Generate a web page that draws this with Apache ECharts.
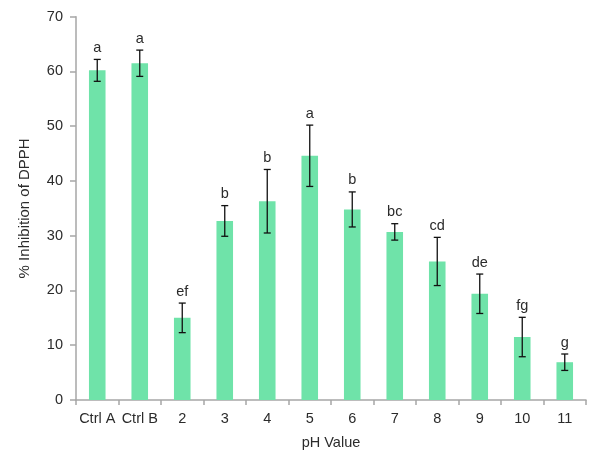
<!DOCTYPE html>
<html>
<head>
<meta charset="utf-8">
<script src="https://cdn.jsdelivr.net/npm/echarts@6/dist/echarts.min.js"></script>
<style>
  html, body { margin: 0; padding: 0; background: #fff; }
  #chart { width: 589px; height: 451px; }
</style>
</head>
<body>
<div id="chart"></div>
<script>
// DPPH inhibition by treatment / pH
const categories = ['Ctrl A', 'Ctrl B', '2', '3', '4', '5', '6', '7', '8', '9', '10', '11'];
const inhibition = [60.2, 61.5, 15.0, 32.7, 36.3, 44.6, 34.8, 30.7, 25.3, 19.4, 11.5, 6.9];
const errors = [2.0, 2.4, 2.7, 2.8, 5.8, 5.6, 3.2, 1.5, 4.4, 3.6, 3.6, 1.5];
const groups = ['a', 'a', 'ef', 'b', 'b', 'a', 'b', 'bc', 'cd', 'de', 'fg', 'g'];
const yTicks = [0, 10, 20, 30, 40, 50, 60, 70];

const font = 'Liberation Sans, Arial, sans-serif';
const textColor = '#2b2b2b';
const axisColor = '#A6A6A6';

const errData = categories.map((c, i) => [i, inhibition[i], errors[i], groups[i]]);

const chart = echarts.init(document.getElementById('chart'));
chart.setOption({
  animation: false,
  grid: { left: 76, right: 3, top: 16.7, bottom: 51, outerBoundsMode: 'none', containLabel: false },
  xAxis: {
    type: 'category',
    data: categories,
    name: 'pH Value',
    nameLocation: 'middle',
    nameGap: 35,
    nameTextStyle: { fontFamily: font, fontSize: 14.5, color: textColor },
    axisLine: { lineStyle: { color: axisColor, width: 1.5 } },
    axisTick: { show: true, length: 5, lineStyle: { color: axisColor, width: 1.5 } },
    axisLabel: { fontFamily: font, fontSize: 14.5, color: textColor, margin: 11, interval: 0 }
  },
  yAxis: {
    type: 'value',
    min: yTicks[0],
    max: yTicks[yTicks.length - 1],
    interval: 10,
    name: '% Inhibition of DPPH',
    nameLocation: 'middle',
    nameGap: 44,
    nameTextStyle: { fontFamily: font, fontSize: 15, color: textColor },
    axisLine: { show: true, lineStyle: { color: axisColor, width: 1.5 } },
    axisTick: { show: true, length: 6, lineStyle: { color: axisColor, width: 1.5 } },
    splitLine: { show: false },
    axisLabel: { fontFamily: font, fontSize: 14.5, color: textColor, margin: 13 }
  },
  series: [
    {
      type: 'bar',
      data: inhibition,
      barWidth: '39%',
      itemStyle: { color: '#6FE3A9' },
      z: 2
    },
    {
      type: 'custom',
      data: errData,
      z: 5,
      renderItem: function (params, api) {
        const x = api.value(0);
        const mean = api.value(1);
        const err = api.value(2);
        const top = api.coord([x, mean + err]);
        const bot = api.coord([x, mean - err]);
        const cap = 3.5;
        const style = { stroke: '#111', lineWidth: 1.3 };
        return {
          type: 'group',
          children: [
            { type: 'line', shape: { x1: top[0], y1: top[1], x2: bot[0], y2: bot[1] }, style: style },
            { type: 'line', shape: { x1: top[0] - cap, y1: top[1], x2: top[0] + cap, y2: top[1] }, style: style },
            { type: 'line', shape: { x1: bot[0] - cap, y1: bot[1], x2: bot[0] + cap, y2: bot[1] }, style: style },
            {
              type: 'text',
              style: {
                x: top[0], y: top[1] - 4,
                text: groups[params.dataIndex],
                align: 'center', verticalAlign: 'bottom',
                fontFamily: font, fontSize: 14.5, fill: textColor
              }
            }
          ]
        };
      }
    }
  ]
});
</script>
</body>
</html>
